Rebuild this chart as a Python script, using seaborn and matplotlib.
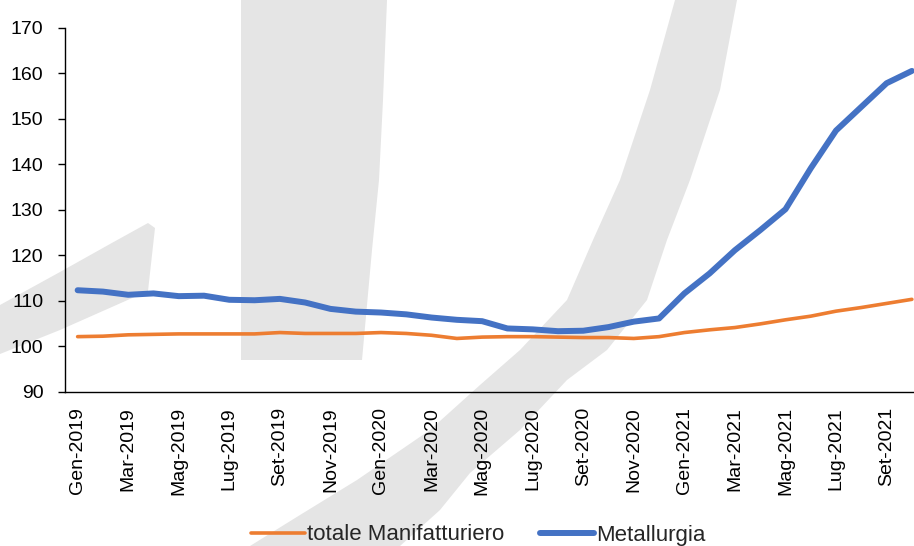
import numpy as np
import pandas as pd
import seaborn as sns
import matplotlib.pyplot as plt
from matplotlib.patches import Polygon

# === Data (indice) ===
mesi = ["Gen", "Feb", "Mar", "Apr", "Mag", "Giu", "Lug", "Ago", "Set", "Ott", "Nov", "Dic"]
periodi = [f"{m}-{a}" for a in (2019, 2020, 2021) for m in mesi][:34]

manifatturiero = [102.1, 102.2, 102.5, 102.6, 102.7, 102.7, 102.7, 102.7, 103.0, 102.8,
                  102.8, 102.8, 103.0, 102.8, 102.4, 101.7, 102.0, 102.1, 102.1, 102.0,
                  101.9, 101.9, 101.7, 102.1, 103.0, 103.6, 104.1, 104.9, 105.8, 106.6,
                  107.7, 108.5, 109.4, 110.3]
metallurgia = [112.3, 112.0, 111.3, 111.6, 111.0, 111.1, 110.2, 110.1, 110.4, 109.6,
               108.2, 107.6, 107.4, 107.0, 106.3, 105.8, 105.5, 103.9, 103.7, 103.3,
               103.4, 104.2, 105.4, 106.1, 111.6, 116.0, 121.1, 125.5, 130.1, 139.1,
               147.4, 152.6, 157.8, 160.5]

serie = ["totale Manifatturiero", "Metallurgia"]
colori = {"totale Manifatturiero": "#ED7D31", "Metallurgia": "#4472C4"}
spessori = {"totale Manifatturiero": 2.6, "Metallurgia": 4.3}

df = pd.DataFrame({"pos": np.arange(len(periodi)),
                   "totale Manifatturiero": manifatturiero,
                   "Metallurgia": metallurgia})
long_df = df.melt(id_vars="pos", var_name="serie", value_name="indice")

# === Figure ===
sns.set_style("white")
plt.rcParams["font.family"] = ["Liberation Sans", "DejaVu Sans"]

W, H = 914, 546
fig = plt.figure(figsize=(W / 100, H / 100), dpi=100)
ax = fig.add_axes([65 / W, 1 - 391.7 / H, (W - 65) / W, (391.7 - 27.7) / H])
ax.patch.set_visible(False)

# background watermark (light grey logo), pixel coords from top-left
def px(points):
    return [(x / W, 1 - y / H) for x, y in points]

grigio = "#e5e5e5"
logo = [
    [(0, 305), (60, 272), (110, 244), (148, 223), (155, 228), (148, 291), (60, 330), (0, 354)],
    [(241, 0), (387, 0), (383, 100), (379, 180), (372, 250), (362, 360), (241, 360)],
    [(675, 0), (650, 90), (620, 180), (593, 240), (567, 300), (520, 350), (480, 385),
     (430, 430), (357, 480), (300, 515), (250, 546),
     (400, 546), (440, 510), (470, 473), (520, 430), (567, 380), (607, 350),
     (647, 300), (667, 240), (690, 180), (720, 90), (737, 0)],
]
for forma in logo:
    fig.add_artist(Polygon(px(forma), closed=True, transform=fig.transFigure,
                           facecolor=grigio, edgecolor="none", zorder=-1))

sns.lineplot(data=long_df, x="pos", y="indice", hue="serie", hue_order=serie,
             palette=colori, size="serie", size_order=serie, sizes=spessori,
             legend=False, ax=ax)

# === Axes styling ===
ax.set_yticks(range(90, 171, 10))
ax.set_xticks(np.arange(0, len(periodi), 2))
ax.set_xticklabels(periodi[::2], rotation=90)
ax.set_xticks(np.arange(-0.5, len(periodi) + 0.5, 1), minor=True)
ax.set_xlim(-0.5, -0.5 + (W - 65) / 25.28)
ax.set_ylim(90, 170)
ax.set_xlabel("")
ax.set_ylabel("")

ax.tick_params(axis="x", which="major", length=0, pad=11, labelsize=14, colors="black")
ax.tick_params(axis="x", which="minor", length=4.3, width=1, direction="out", color="black")
ax.tick_params(axis="y", length=5, width=1, direction="out", pad=10.5, labelsize=14,
               left=True, colors="black")

for s in ["top", "right"]:
    ax.spines[s].set_visible(False)
for s in ["left", "bottom"]:
    ax.spines[s].set_color("black")
    ax.spines[s].set_linewidth(1)

# === Legend ===
handles = ax.get_lines()[:2]
fig.legend(handles, serie, loc="center", bbox_to_anchor=(478 / W, (H - 535) / H),
           ncol=2, frameon=False, fontsize=16, handlelength=2.43,
           handletextpad=0.1, columnspacing=1.6)

plt.savefig("out.png", dpi=100)
